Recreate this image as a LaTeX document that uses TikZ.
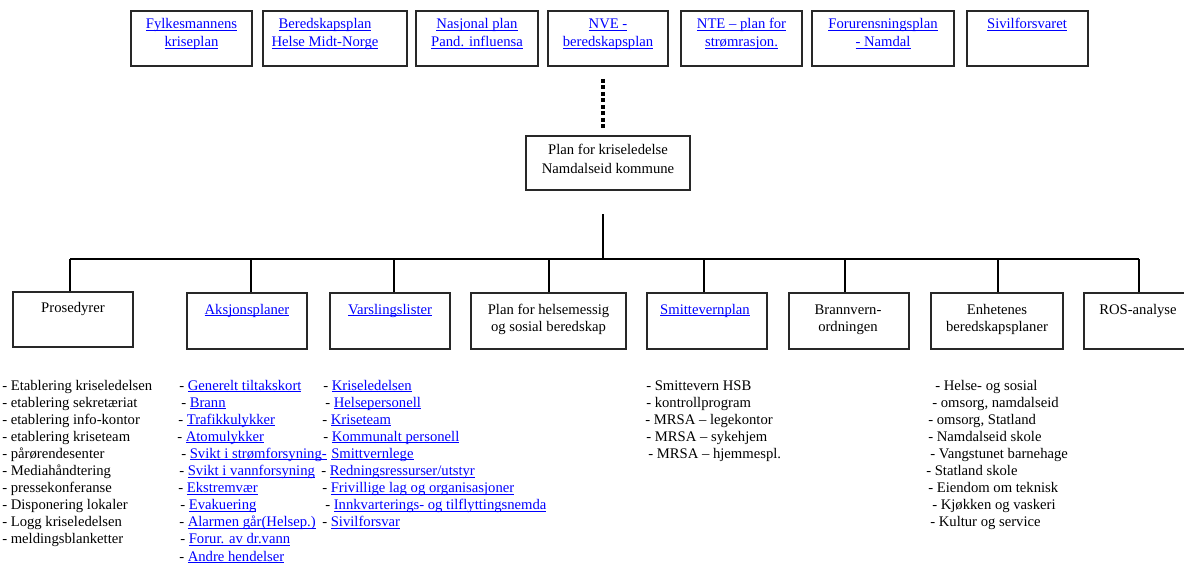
\documentclass[tikz,border=0pt]{standalone}
\usepackage{fontspec}
\setmainfont{Liberation Serif}
\usetikzlibrary{fit}
\definecolor{linkblue}{RGB}{0,0,255}
\definecolor{boxline}{RGB}{40,40,40}
\newsavebox\ulbox
\newcommand\lnk[1]{\sbox\ulbox{\color{linkblue}#1}{\color{linkblue}\rlap{\rule[-1.4pt]{\wd\ulbox}{0.6pt}}}\usebox\ulbox}
\tikzset{
  box/.style={draw=boxline, line width=1pt, inner sep=0pt},
  tx/.style={font=\fontsize{11pt}{13pt}\selectfont, inner sep=0pt, anchor=base},
  lt/.style={font=\fontsize{11pt}{13pt}\selectfont, inner sep=0pt, anchor=base west},
  conn/.style={draw=black, line width=0.8pt},
  dots/.style={draw=black, line width=3pt, dash pattern=on 3pt off 1.85pt}
}
\begin{document}
\begin{tikzpicture}[x=0.75pt,y=-0.75pt]
\useasboundingbox (0,0) rectangle (1184,563);
\clip (0,0) rectangle (1184,563);
% ---- top boxes
\node[box, fit={(131,11)(252,66)}] (t1) {};
\node[tx] (t1a) at (191.5,29) {\lnk{Fylkesmannens}};
\node[tx] (t1b) at (191.5,47) {\lnk{kriseplan}};
\node[box, fit={(263,11)(407,66)}] (t2) {};
\node[tx] (t2a) at (325,29) {\lnk{Beredskapsplan}};
\node[tx] (t2b) at (325,47) {\lnk{Helse Midt-Norge}};
\node[box, fit={(416,11)(538,66)}] (t3) {};
\node[tx] (t3a) at (477,29) {\lnk{Nasjonal plan}};
\node[tx] (t3b) at (477,47) {\lnk{Pand. influensa}};
\node[box, fit={(548,11)(668,66)}] (t4) {};
\node[tx] (t4a) at (608,29) {\lnk{NVE -}};
\node[tx] (t4b) at (608,47) {\lnk{beredskapsplan}};
\node[box, fit={(681,11)(802,66)}] (t5) {};
\node[tx] (t5a) at (741.5,29) {\lnk{NTE – plan for}};
\node[tx] (t5b) at (741.5,47) {\lnk{strømrasjon.}};
\node[box, fit={(812,11)(954,66)}] (t6) {};
\node[tx] (t6a) at (883,29) {\lnk{Forurensningsplan}};
\node[tx] (t6b) at (883,47) {\lnk{- Namdal}};
\node[box, fit={(967,11)(1088,66)}] (t7) {};
\node[tx] (t7a) at (1027,29) {\lnk{Sivilforsvaret}};
% ---- dotted link
\coordinate (d0) at (603,79);
\coordinate (d1) at (603,128);
\draw[dots] (d0) -- (d1);
% ---- centre box
\node[box, fit={(526,136)(690,190)}] (ctr) {};
\node[tx] (ctra) at (608,155) {Plan for kriseledelse};
\node[tx] (ctrb) at (608,173) {Namdalseid kommune};
% ---- lower boxes
\node[box, fit={(13,292)(133,347)}] (pr) {};
\node[tx] (prt) at (73,312) {Prosedyrer};
\node[box, fit={(187,293)(307,349)}] (ak) {};
\node[tx] (akt) at (247,314) {\lnk{Aksjonsplaner}};
\node[box, fit={(330,293)(450,349)}] (va) {};
\node[tx] (vat) at (390,314) {\lnk{Varslingslister}};
\node[box, fit={(471,293)(626,349)}] (ph) {};
\node[tx] (pha) at (548.5,314) {Plan for helsemessig};
\node[tx] (phb) at (548.5,331) {og sosial beredskap};
\node[box, fit={(647,293)(767,349)}] (sm) {};
\node[tx] (smt) at (705,314) {\lnk{Smittevernplan}};
\node[box, fit={(789,293)(909,349)}] (br) {};
\node[tx] (bra) at (848,314) {Brannvern-};
\node[tx] (brb) at (848,331) {ordningen};
\node[box, fit={(931,293)(1063,349)}] (en) {};
\node[tx] (ena) at (997,314) {Enhetenes};
\node[tx] (enb) at (997,331) {beredskapsplaner};
\node[box, fit={(1084,293)(1194,349)}] (ro) {};
\node[tx] (rot) at (1138,314) {ROS-analyse};
% ---- connectors
\coordinate (c0) at (603,214);
\coordinate (c1) at (603,259);
\coordinate (busl) at (70,259);
\coordinate (busr) at (1139,259);
\draw[conn] (c0) -- (c1);
\draw[conn] (busl) -- (busr);
\foreach \x/\n in {70/pr,251/ak,394/va,549/ph,704/sm,845/br,998/en,1139/ro}{
  \coordinate (b-\n) at (\x,259);
  \draw[conn] (b-\n) -- (b-\n |- \n.north);
}
% ---- lists
\foreach \dx/\itm [count=\i] in {
  2/{- Etablering kriseledelsen},
  2/{- etablering sekretæriat},
  2/{- etablering info-kontor},
  2/{- etablering kriseteam},
  2/{- pårørendesenter},
  2/{- Mediahåndtering},
  2/{- pressekonferanse},
  2/{- Disponering lokaler},
  2/{- Logg kriseledelsen},
  2/{- meldingsblanketter}}
  \node[lt] (la-\i) at (\dx,{390+17.1*(\i-1)}) {\itm};
\foreach \dx/\itm [count=\i] in {
  179/{- \lnk{Generelt tiltakskort}},
  181/{- \lnk{Brann}},
  178/{- \lnk{Trafikkulykker}},
  177/{- \lnk{Atomulykker}},
  181/{- \lnk{Svikt i strømforsyning-}},
  179/{- \lnk{Svikt i vannforsyning}},
  178/{- \lnk{Ekstremvær}},
  180/{- \lnk{Evakuering}},
  179/{- \lnk{Alarmen går(Helsep.)}},
  180/{- \lnk{Forur. av dr.vann}},
  179/{- \lnk{Andre hendelser}}}
  \node[lt] (lb-\i) at (\dx,{390+17.1*(\i-1)}) {\itm};
\foreach \dx/\itm [count=\i] in {
  323/{- \lnk{Kriseledelsen}},
  325/{- \lnk{Helsepersonell}},
  322/{- \lnk{Kriseteam}},
  323/{- \lnk{Kommunalt personell}},
  331/{\lnk{Smittvernlege}},
  321/{- \lnk{Redningsressurser/utstyr}},
  322/{- \lnk{Frivillige lag og organisasjoner}},
  325/{- \lnk{Innkvarterings- og tilflyttingsnemda}},
  322/{- \lnk{Sivilforsvar}}}
  \node[lt] (lc-\i) at (\dx,{390+17.1*(\i-1)}) {\itm};
\foreach \dx/\itm [count=\i] in {
  646/{- Smittevern HSB},
  646/{- kontrollprogram},
  645/{- MRSA – legekontor},
  646/{- MRSA – sykehjem},
  648/{- MRSA – hjemmespl.}}
  \node[lt] (ld-\i) at (\dx,{390+17.1*(\i-1)}) {\itm};
\foreach \dx/\itm [count=\i] in {
  935/{- Helse- og sosial},
  932/{- omsorg, namdalseid},
  928/{- omsorg, Statland},
  928/{- Namdalseid skole},
  930/{- Vangstunet barnehage},
  926/{- Statland skole},
  928/{- Eiendom om teknisk},
  932/{- Kjøkken og vaskeri},
  930/{- Kultur og service}}
  \node[lt] (le-\i) at (\dx,{390+17.1*(\i-1)}) {\itm};
\end{tikzpicture}
\end{document}
